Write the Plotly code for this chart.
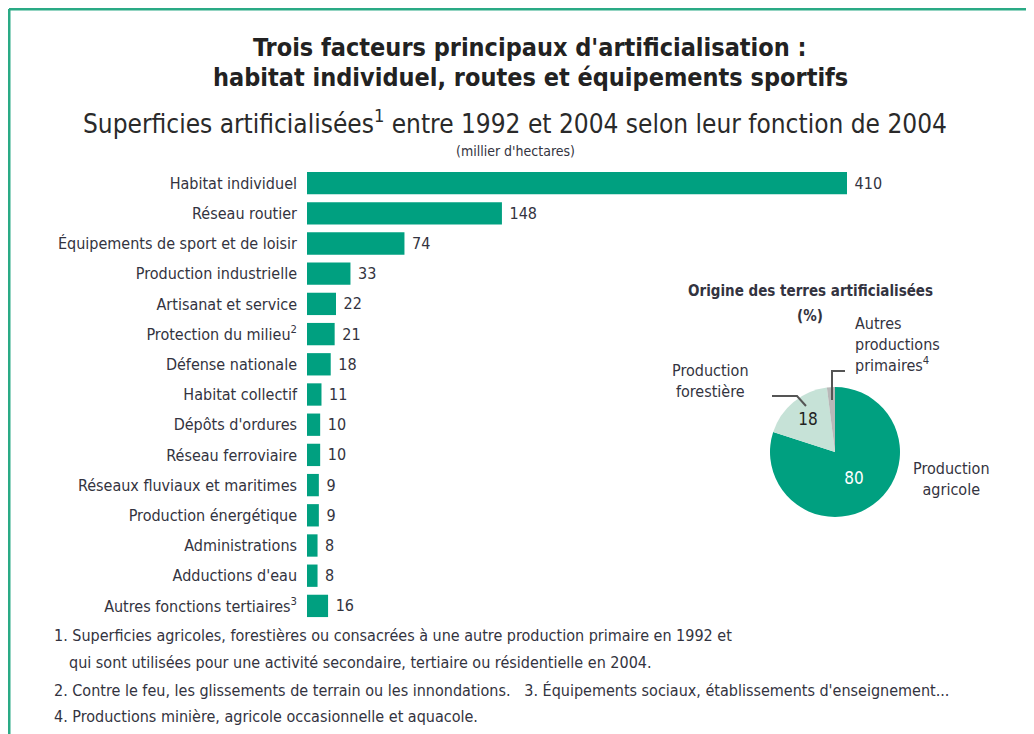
import plotly.graph_objects as go

categories = [
    "Habitat individuel", "Réseau routier", "Équipements de sport et de loisir",
    "Production industrielle", "Artisanat et service", "Protection du milieu<sup>2</sup>",
    "Défense nationale", "Habitat collectif", "Dépôts d'ordures", "Réseau ferroviaire",
    "Réseaux fluviaux et maritimes", "Production énergétique", "Administrations",
    "Adductions d'eau", "Autres fonctions tertiaires<sup>3</sup>",
]
values = [410, 148, 74, 33, 22, 21, 18, 11, 10, 10, 9, 9, 8, 8, 16]

pie_labels = ["Production agricole", "Production forestière", "Autres productions primaires"]
pie_values = [80, 18, 2]
pie_text = ["80", "18", " "]

OFF = 8  # page body margin
W, H = 1034 - OFF, 734 - OFF
FONT = "DejaVu Sans Condensed, Liberation Sans Narrow, sans-serif"
TXT = "#333340"
GREEN = "#00a080"

def px(x):
    return (x - OFF) / W

def py(y):
    return 1 - (y - OFF) / H

fig = go.Figure()
fig.add_trace(go.Bar(
    x=values, y=categories, orientation="h",
    marker=dict(color=GREEN, line=dict(width=0)),
    width=0.74,
    text=[" " + str(v) for v in values], textposition="outside",
    textfont=dict(family=FONT, size=16, color=TXT),
    cliponaxis=False, hoverinfo="skip", showlegend=False,
))

fig.add_trace(go.Pie(
    labels=pie_labels, values=pie_values, text=pie_text,
    sort=False, direction="clockwise", rotation=0,
    marker=dict(colors=[GREEN, "#c6e2d7", "#b8b8b8"], line=dict(width=0)),
    textinfo="text", textposition="inside", insidetextorientation="horizontal",
    textfont=dict(family=FONT, size=17, color=["white", "#222222", "#222222"]),
    domain=dict(x=[px(770), px(900)], y=[py(517), py(387)]),
    showlegend=False, hoverinfo="skip",
))

fig.update_layout(
    width=W, height=H,
    margin=dict(l=0, r=0, t=0, b=0),
    paper_bgcolor="white", plot_bgcolor="white",
    font=dict(family=FONT, color=TXT),
    xaxis=dict(domain=[px(307), px(307 + 500 * 540 / 410)], range=[0, 500],
               visible=False, fixedrange=True),
    yaxis=dict(domain=[py(621), py(168)], autorange="reversed",
               showgrid=False, showline=False, zeroline=False, ticks="",
               ticklabelstandoff=9,
               tickfont=dict(family=FONT, size=16, color=TXT)),
    bargap=0.26,
)

ann = []
def A(text, x, y, size, bold=False, xanchor="center", align="center", color=TXT, yanchor="middle"):
    if bold:
        text = "<b>" + text + "</b>"
    ann.append(dict(text=text, x=px(x), y=py(y), xref="paper", yref="paper",
                    xanchor=xanchor, yanchor=yanchor, align=align, showarrow=False,
                    font=dict(family=FONT, size=size, color=color)))

A("Trois facteurs principaux d'artificialisation :", 530, 47, 25, bold=True, color="#222222")
A("habitat individuel, routes et équipements sportifs", 530, 77, 25, bold=True, color="#222222")
A("Superficies artificialisées<sup>1</sup> entre 1992 et 2004 selon leur fonction de 2004", 515, 122, 26, color="#2a2a2a")
A("(millier d'hectares)", 515, 151, 14)

A("<b>Origine des terres artificialisées</b>", 810, 291, 15)
A("<b>(%)</b>", 810, 316, 15)
A("Production<br>forestière", 710, 381, 16)
A("Autres<br>productions<br>primaires<sup>4</sup>", 853, 344, 16, xanchor="left", align="left")
A("Production<br>agricole", 951, 479, 16)

A("1. Superficies agricoles, forestières ou consacrées à une autre production primaire en 1992 et", 52, 635, 16, xanchor="left", align="left")
A("qui sont utilisées pour une activité secondaire, tertiaire ou résidentielle en 2004.", 67, 662, 16, xanchor="left", align="left")
A("2. Contre le feu, les glissements de terrain ou les innondations.   3. Équipements sociaux, établissements d'enseignement...", 52, 690, 16, xanchor="left", align="left")
A("4. Productions minière, agricole occasionnelle et aquacole.", 52, 716, 16, xanchor="left", align="left")

fig.update_layout(annotations=ann)

shapes = []
# frame
shapes.append(dict(type="line", xref="paper", yref="paper", x0=px(9), x1=1, y0=py(9), y1=py(9),
                   line=dict(color="#2aaa85", width=3)))
shapes.append(dict(type="line", xref="paper", yref="paper", x0=px(9), x1=px(9), y0=py(9), y1=0,
                   line=dict(color="#2aaa85", width=3)))
# leader lines
shapes.append(dict(type="path", xref="paper", yref="paper",
                   path=f"M {px(772)},{py(396)} L {px(797)},{py(396)} L {px(806)},{py(406)}",
                   line=dict(color="#555555", width=2)))
shapes.append(dict(type="path", xref="paper", yref="paper",
                   path=f"M {px(832)},{py(400)} L {px(832)},{py(371)} L {px(845)},{py(371)}",
                   line=dict(color="#555555", width=2)))
fig.update_layout(shapes=shapes)

fig.write_html("out.html")
